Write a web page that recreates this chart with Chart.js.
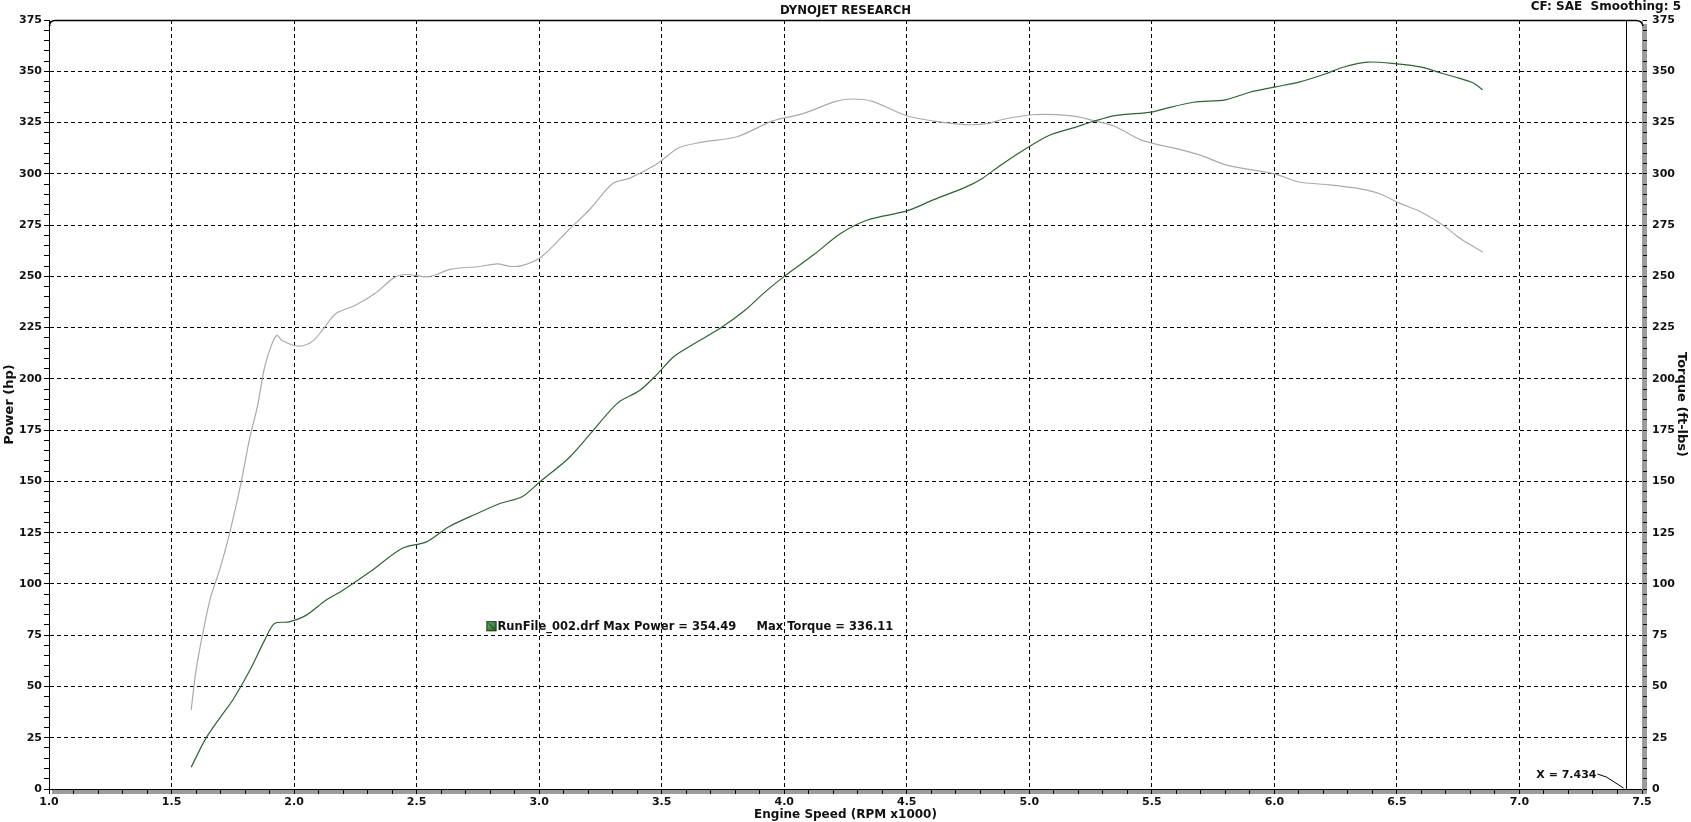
<!DOCTYPE html>
<html>
<head>
<meta charset="utf-8">
<script src="https://cdn.jsdelivr.net/npm/chart.js@4.4.1/dist/chart.umd.min.js"></script>
<style>
  html, body { margin: 0; padding: 0; background: #fff; }
  #dyno { display: block; }
</style>
</head>
<body>
<canvas id="dyno" width="1691" height="822"></canvas>
<script>
// power curve (hp) vs engine speed (RPM x1000)
const powerRpm = [1.58, 1.64, 1.70, 1.75, 1.82, 1.88, 1.92, 1.98, 2.05, 2.13, 2.19, 2.31, 2.44, 2.54, 2.63, 2.74, 2.84, 2.93, 3.00,
  3.12, 3.21, 3.32, 3.41, 3.48, 3.55, 3.63, 3.74, 3.84, 3.92, 4.00, 4.12, 4.23, 4.34, 4.50, 4.61, 4.74, 4.81, 4.88, 5.00,
  5.08, 5.19, 5.26, 5.35, 5.50, 5.55, 5.67, 5.80, 5.90, 6.00, 6.10, 6.21, 6.28, 6.38, 6.50, 6.60, 6.69, 6.75, 6.81, 6.85];
const powerHp = [10.6, 24.7, 35.2, 43.4, 58, 72.6, 80.7, 81.5, 84.8, 92.1, 96.2, 105.9, 117.3, 120.5, 127.8, 134, 139.2, 142.5, 149.5,
  161.3, 173.4, 188.2, 194.3, 202.1, 210.9, 217, 224.8, 233.5, 242.2, 250, 260.5, 270.9, 277.5, 281.9, 287.4, 293.5, 297.9, 304, 313.3,
  318.7, 322.8, 325.5, 328.4, 330.1, 331.7, 334.9, 336.1, 339.8, 342.3, 344.7, 348.8, 352, 354.5, 353.6, 352, 348.8, 346.8, 344.4, 341];

// torque curve (ft-lbs)
const torqueRpm = [1.58, 1.60, 1.63, 1.66, 1.70, 1.74, 1.78, 1.82, 1.85, 1.88, 1.91, 1.93, 1.95, 2.00, 2.04, 2.08, 2.12, 2.17, 2.25,
  2.33, 2.41, 2.46, 2.55, 2.64, 2.75, 2.83, 2.88, 2.93, 3.01, 3.12, 3.21, 3.30, 3.37, 3.48, 3.57, 3.66, 3.81, 3.95, 4.08,
  4.21, 4.28, 4.36, 4.50, 4.61, 4.74, 4.83, 4.89, 5.01, 5.11, 5.19, 5.26, 5.35, 5.46, 5.62, 5.70, 5.81, 6.00, 6.10, 6.21,
  6.35, 6.43, 6.51, 6.60, 6.69, 6.76, 6.85];
const torqueFt = [38.5, 58, 77.5, 93.7, 108.3, 126.2, 147.3, 171.7, 186.3, 205.8, 217.2, 221.2, 218.8, 216.3, 216.3, 218.8, 224.5, 231.8, 235.9,
  241.6, 249.5, 250.9, 249.8, 253.5, 254.7, 256.1, 254.9, 255.2, 259.6, 272.6, 283.1, 295.3, 297.9, 304.8, 312.7, 315.3, 318.2, 325.7, 329.5,
  335.3, 336.5, 335.3, 328.3, 325.7, 324, 324.5, 326.5, 328.8, 328.9, 328, 326, 323.1, 316.3, 311.7, 309, 304.1, 300, 296, 294.8,
  292.7, 290.3, 285.7, 281.3, 274.8, 268.3, 261.9];

const runFile = "RunFile_002.drf";
const maxPower = "354.49";
const maxTorque = "336.11";
const cursorRpm = 7.434;
const headerRight = "CF: SAE  Smoothing: 5";

const FONT = "'DejaVu Sans', Verdana, sans-serif";
Chart.defaults.font.family = FONT;
Chart.defaults.font.size = 11;
Chart.defaults.font.weight = 'bold';
Chart.defaults.color = '#111';

function isMajor(v, step) {
  const q = v / step;
  return Math.abs(q - Math.round(q)) < 1e-6;
}

const dynoExtras = {
  id: 'dynoExtras',
  beforeDraw(chart) {
    const { ctx, chartArea: a } = chart;
    ctx.save();
    ctx.fillStyle = '#9c9c9c';
    ctx.fillRect(a.left + 3, a.bottom, a.right - a.left + 1, 5);
    ctx.fillRect(a.right, a.top + 4, 5, a.bottom - a.top + 1);
    ctx.restore();
  },
  afterDraw(chart) {
    const { ctx, chartArea: a, scales } = chart;
    ctx.save();
    // top border with rounded corners
    ctx.strokeStyle = '#000';
    ctx.lineWidth = 1.5;
    ctx.beginPath();
    ctx.moveTo(a.left + 0.5, a.top + 6);
    ctx.quadraticCurveTo(a.left + 0.5, a.top + 0.5, a.left + 6, a.top + 0.5);
    ctx.lineTo(a.right - 6, a.top + 0.5);
    ctx.quadraticCurveTo(a.right, a.top + 0.5, a.right + 1, a.top + 6);
    ctx.stroke();

    // cursor line
    const cx = Math.round(scales.x.getPixelForValue(cursorRpm)) + 0.5;
    ctx.lineWidth = 1;
    ctx.beginPath();
    ctx.moveTo(cx, a.top + 1);
    ctx.lineTo(cx, a.bottom);
    ctx.stroke();
    const ty = scales.y.getPixelForValue(6.8);
    ctx.font = "bold 11px " + FONT;
    ctx.fillStyle = '#111';
    ctx.textAlign = 'right';
    ctx.textBaseline = 'middle';
    ctx.fillText("X = " + cursorRpm.toFixed(3), cx - 30, ty);
    ctx.beginPath();
    ctx.moveTo(cx - 29, ty - 1);
    ctx.lineTo(cx - 20, ty + 2);
    ctx.lineTo(cx - 3, a.bottom - 1);
    ctx.stroke();

    // run legend
    const lx = scales.x.getPixelForValue(2.785);
    const ly = scales.y.getPixelForValue(79.4);
    const g = ctx.createLinearGradient(lx, ly - 5, lx + 10, ly + 5);
    g.addColorStop(0, '#6fb56f');
    g.addColorStop(1, '#1f5e24');
    ctx.fillStyle = g;
    ctx.fillRect(lx, ly - 5, 10, 10);
    ctx.strokeStyle = '#1a3d1a';
    ctx.strokeRect(lx + 0.5, ly - 4.5, 9, 9);
    ctx.beginPath();
    ctx.moveTo(lx + 2, ly - 3);
    ctx.lineTo(lx + 8, ly + 3);
    ctx.stroke();
    ctx.fillStyle = '#111';
    ctx.textAlign = 'left';
    ctx.font = "bold 11.5px " + FONT;
    ctx.fillText(runFile + " Max Power = " + maxPower, lx + 11, ly + 1);
    ctx.fillText("Max Torque = " + maxTorque, scales.x.getPixelForValue(3.887), ly + 1);

    // header right
    ctx.font = "bold 12px " + FONT;
    ctx.textAlign = 'right';
    ctx.fillText(headerRight, 1681, 7);
    ctx.restore();
  }
};

new Chart(document.getElementById('dyno'), {
  type: 'line',
  data: {
    datasets: [
      {
        label: 'Power',
        data: powerRpm.map((r, i) => ({ x: r, y: powerHp[i] })),
        borderColor: '#2c6530',
        borderWidth: 1.2,
        pointRadius: 0,
        tension: 0.3,
        yAxisID: 'y'
      },
      {
        label: 'Torque',
        data: torqueRpm.map((r, i) => ({ x: r, y: torqueFt[i] })),
        borderColor: '#a6ada6',
        borderWidth: 1.2,
        pointRadius: 0,
        tension: 0.3,
        yAxisID: 'y1'
      }
    ]
  },
  options: {
    responsive: false,
    animation: false,
    layout: { padding: 0 },
    plugins: {
      legend: { display: false },
      tooltip: { enabled: false },
      title: {
        display: true,
        text: 'DYNOJET RESEARCH',
        font: { size: 11.7, weight: 'bold' },
        color: '#111',
        padding: { top: 4, bottom: 2 }
      }
    },
    scales: {
      x: {
        type: 'linear',
        min: 1,
        max: 7.5,
        ticks: {
          stepSize: 0.1,
          autoSkip: false,
          maxRotation: 0,
          padding: 2,
          callback: v => isMajor(v, 0.5) ? v.toFixed(1) : ''
        },
        grid: {
          color: c => (c.tick && isMajor(c.tick.value, 0.5) && c.tick.value > 1.01 && c.tick.value < 7.49) ? '#000' : 'rgba(0,0,0,0)',
          lineWidth: 1,
          tickLength: 5,
          tickColor: '#000',
          tickBorderDash: []
        },
        border: { display: true, color: '#000', width: 1, dash: [4, 3] },
        title: {
          display: true,
          text: 'Engine Speed (RPM x1000)',
          font: { size: 12, weight: 'bold' },
          padding: { top: 0, bottom: 0 }
        },
        afterFit(s) { s.height = 33; }
      },
      y: {
        position: 'left',
        min: 0,
        max: 375,
        ticks: {
          stepSize: 5,
          autoSkip: false,
          padding: 2,
          callback: v => v % 25 === 0 ? String(v) : ''
        },
        grid: {
          color: c => (c.tick && c.tick.value % 25 === 0 && c.tick.value > 0 && c.tick.value < 375) ? '#000' : 'rgba(0,0,0,0)',
          lineWidth: 1,
          tickLength: 5,
          tickColor: '#000',
          tickBorderDash: []
        },
        border: { display: true, color: '#000', width: 1, dash: [4, 3] },
        title: {
          display: true,
          text: 'Power (hp)',
          font: { size: 13, weight: 'bold' },
          padding: { top: 2, bottom: 0 }
        },
        afterFit(s) { s.width = 49; }
      },
      y1: {
        position: 'right',
        min: 0,
        max: 375,
        ticks: {
          stepSize: 5,
          autoSkip: false,
          padding: 5,
          callback: v => v % 25 === 0 ? String(v) : ''
        },
        grid: {
          drawOnChartArea: false,
          lineWidth: 1,
          tickLength: 5,
          tickColor: '#000'
        },
        border: { display: true, color: '#9c9c9c', width: 1 },
        title: {
          display: true,
          text: 'Torque (ft-lbs)',
          font: { size: 13, weight: 'bold' },
          padding: { top: 2, bottom: 0 }
        },
        afterFit(s) { s.width = 49; }
      }
    }
  },
  plugins: [dynoExtras]
});
</script>
</body>
</html>
